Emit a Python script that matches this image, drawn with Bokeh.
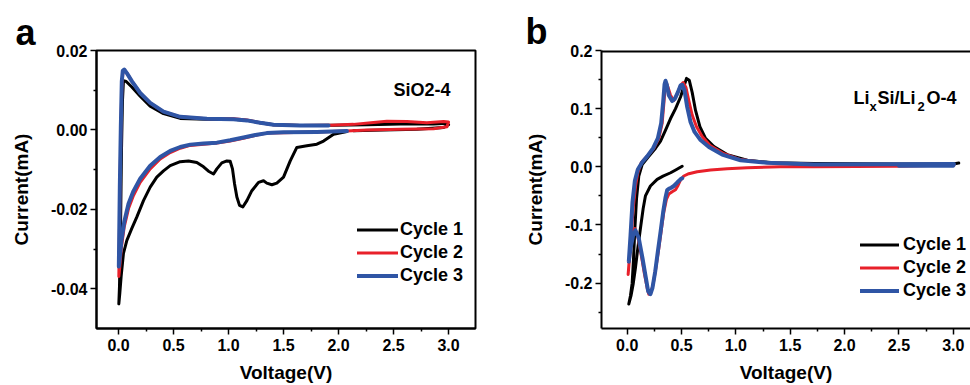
from bokeh.plotting import figure
from bokeh.layouts import row
from bokeh.models import (Range1d, FixedTicker, NumeralTickFormatter, Legend,
                          LegendItem, Label, Span, Title)
from bokeh.embed import file_html
from bokeh.resources import INLINE

# ---------------- data: panel a (SiO2-4) ----------------
a_c1_v = [2.076, 1.955, 1.864, 1.803, 1.712, 1.621, 1.561, 1.5, 1.439, 1.394, 1.348, 1.318,
          1.273, 1.212, 1.167, 1.13, 1.1, 1.076, 1.055, 1.036, 1.015, 0.985, 0.939, 0.894,
          0.864, 0.818, 0.773, 0.712, 0.636, 0.561, 0.47, 0.409, 0.348, 0.288, 0.227, 0.167,
          0.121, 0.076, 0.045, 0.024, 0.012, 0.003,
          0.009, 0.018, 0.027, 0.036, 0.045, 0.07, 0.121, 0.197, 0.288, 0.409, 0.561, 0.803,
          1.045, 1.167, 1.288, 1.409, 1.652, 1.955, 2.258, 2.561, 2.864, 2.985, 3.0, 2.955,
          2.712, 2.409, 2.136]
a_c1_i = [-0.0004, -0.0011, -0.0028, -0.0036, -0.0040, -0.0044, -0.0078, -0.0119, -0.0134,
          -0.0138, -0.0134, -0.0128, -0.0132, -0.0153, -0.0178, -0.0194, -0.0190, -0.0169,
          -0.0136, -0.0098, -0.0079, -0.0078, -0.0083, -0.0098, -0.0111, -0.0104, -0.0093,
          -0.0082, -0.0078, -0.0080, -0.0090, -0.0103, -0.0119, -0.0144, -0.0178, -0.0219,
          -0.0248, -0.0278, -0.0311, -0.0369, -0.0411, -0.0438,
          -0.0394, -0.0260, -0.0053, 0.0073, 0.0124, 0.0122, 0.0108, 0.0085, 0.0060, 0.0041,
          0.0029, 0.0027, 0.0027, 0.0024, 0.0018, 0.0013, 0.0011, 0.0012, 0.0013, 0.0015,
          0.0015, 0.0017, 0.0013, 0.0006, 0.0002, 0.0, -0.0002]

a_c2_v = [2.985, 2.864, 2.561, 2.258, 2.076, 1.803, 1.5, 1.348, 1.258, 1.136, 1.015, 0.894,
          0.773, 0.652, 0.561, 0.47, 0.379, 0.288, 0.197, 0.136, 0.091, 0.052, 0.027, 0.012,
          0.003,
          0.006, 0.012, 0.021, 0.03, 0.039, 0.052, 0.076, 0.121, 0.197, 0.288, 0.409, 0.561,
          0.803, 1.045, 1.167, 1.288, 1.409, 1.652, 1.924, 2.136, 2.318, 2.439, 2.621, 2.803,
          2.955, 3.0, 2.985]
a_c2_i = [0.0008, 0.0003, 0.0002, 0.0, -0.0003, -0.0005, -0.0007, -0.0008, -0.0013, -0.0021,
          -0.0028, -0.0033, -0.0036, -0.0039, -0.0046, -0.0057, -0.0073, -0.0098, -0.0132,
          -0.0165, -0.0198, -0.0244, -0.0294, -0.0344, -0.0369,
          -0.0311, -0.0178, -0.0011, 0.0106, 0.0143, 0.0152, 0.0143, 0.0123, 0.0093, 0.0068,
          0.0046, 0.0033, 0.0028, 0.0028, 0.0025, 0.0018, 0.0013, 0.0011, 0.0012, 0.0014,
          0.0019, 0.0022, 0.0021, 0.0018, 0.0021, 0.0020, 0.0008]

a_c3_v = [2.076, 1.803, 1.5, 1.348, 1.258, 1.136, 1.015, 0.894, 0.773, 0.652, 0.561, 0.47,
          0.379, 0.288, 0.197, 0.136, 0.091, 0.052, 0.027, 0.009, 0.003,
          0.006, 0.012, 0.021, 0.03, 0.039, 0.052, 0.076, 0.121, 0.197, 0.288, 0.409, 0.561,
          0.803, 1.045, 1.167, 1.288, 1.409, 1.652, 1.909]
a_c3_i = [-0.0003, -0.0005, -0.0006, -0.0008, -0.0012, -0.0019, -0.0026, -0.0032, -0.0034,
          -0.0037, -0.0043, -0.0053, -0.0068, -0.0090, -0.0123, -0.0154, -0.0186, -0.0232,
          -0.0278, -0.0328, -0.0344,
          -0.0278, -0.0144, 0.0006, 0.0123, 0.0149, 0.0152, 0.0143, 0.0123, 0.0093, 0.0068,
          0.0046, 0.0033, 0.0028, 0.0027, 0.0024, 0.0018, 0.0013, 0.0011, 0.0011]

# ---------------- data: panel b (LixSi/Li2O-4) ----------------
b_c1_v = [0.506, 0.45, 0.4, 0.33, 0.276, 0.214, 0.168, 0.147, 0.122, 0.098, 0.076, 0.055,
          0.035, 0.015,
          0.03, 0.046, 0.058, 0.07, 0.086, 0.107, 0.138, 0.199, 0.261, 0.307, 0.353, 0.399,
          0.445, 0.491, 0.528, 0.546, 0.571, 0.598, 0.629, 0.669, 0.721, 0.798, 0.92, 1.104,
          1.35, 1.72, 2.5, 3.0, 3.05]
b_c1_i = [0.001, -0.005, -0.0102, -0.016, -0.0215, -0.033, -0.050, -0.072, -0.106, -0.140,
          -0.174, -0.202, -0.222, -0.236,
          -0.222, -0.200, -0.160, -0.110, -0.055, -0.016, 0.004, 0.018, 0.032, 0.044, 0.063,
          0.083, 0.100, 0.120, 0.142, 0.152, 0.149, 0.128, 0.097, 0.069, 0.049, 0.035, 0.021,
          0.0113, 0.0068, 0.0055, 0.005, 0.005, 0.0065]

b_c2_v = [3.006, 2.48, 1.72, 1.41, 1.104, 0.92, 0.767, 0.644, 0.567, 0.521, 0.491, 0.469,
          0.445, 0.414, 0.383, 0.362, 0.337, 0.316, 0.291, 0.264, 0.239, 0.215, 0.199, 0.184,
          0.16, 0.129, 0.098, 0.071, 0.046, 0.025, 0.009,
          0.018, 0.037, 0.055, 0.077, 0.098, 0.129, 0.184, 0.245, 0.291, 0.322, 0.337, 0.35,
          0.362, 0.377, 0.399, 0.429, 0.46, 0.491, 0.515, 0.54, 0.567, 0.598, 0.638, 0.69,
          0.767, 0.89, 1.043, 1.288, 1.72, 3.006]
b_c2_i = [0.003, 0.001, 0.0, 0.0, -0.0017, -0.0034, -0.0056, -0.0085, -0.0119, -0.0158,
          -0.0226, -0.0316, -0.0395, -0.043, -0.0469, -0.0554, -0.078, -0.106, -0.140, -0.174,
          -0.202, -0.218, -0.219, -0.208, -0.185, -0.151, -0.120, -0.106, -0.123, -0.151,
          -0.185,
          -0.163, -0.118, -0.072, -0.033, -0.0102, 0.0068, 0.018, 0.032, 0.049, 0.075, 0.108,
          0.137, 0.1435, 0.136, 0.123, 0.114, 0.125, 0.140, 0.145, 0.137, 0.114, 0.089, 0.069,
          0.052, 0.036, 0.0226, 0.0124, 0.0068, 0.004, 0.003]

b_c3_v = [0.506, 0.49, 0.46, 0.429, 0.405, 0.383, 0.368, 0.353, 0.331, 0.307, 0.282, 0.258,
          0.233, 0.214, 0.193, 0.172, 0.141, 0.107, 0.076, 0.055, 0.031, 0.015,
          0.031, 0.049, 0.071, 0.098, 0.138, 0.184, 0.239, 0.282, 0.313, 0.331, 0.344,
          0.353, 0.365, 0.383, 0.414, 0.439, 0.466, 0.491, 0.506, 0.528, 0.552, 0.583, 0.62,
          0.675, 0.752, 0.874, 1.043, 1.288, 1.72, 3.006, 3.0, 2.5]
b_c3_i = [-0.0198, -0.0215, -0.027, -0.033, -0.036, -0.038, -0.040, -0.0525, -0.078, -0.112,
          -0.146, -0.180, -0.208, -0.219, -0.214, -0.191, -0.157, -0.123, -0.109, -0.118,
          -0.140, -0.163,
          -0.118, -0.061, -0.024, -0.0045, 0.0079, 0.018, 0.032, 0.049, 0.075, 0.111,
          0.142, 0.148, 0.141, 0.123, 0.113, 0.117, 0.128, 0.140, 0.141, 0.131, 0.103, 0.077,
          0.060, 0.046, 0.034, 0.021, 0.0113, 0.0068, 0.004, 0.005, 0.002, 0.0017]

cycle_labels = ["Cycle 1", "Cycle 2", "Cycle 3"]
x_ticks = [0.0, 0.5, 1.0, 1.5, 2.0, 2.5, 3.0]
x_minor = [-0.25, 0.25, 0.75, 1.25, 1.75, 2.25, 2.75]
a_y_ticks = [0.02, 0.0, -0.02, -0.04]
a_y_minor = [0.01, -0.01, -0.03]
b_y_ticks = [0.2, 0.1, 0.0, -0.1, -0.2]
b_y_minor = [0.15, 0.05, -0.05, -0.15, -0.25]

FONT = "Liberation Sans"
COLORS = ["#000000", "#e8202a", "#2f55a5"]
WIDTHS = [3, 3, 4]


def style_axes(p, yfmt, yticks, yminor):
    p.xaxis.ticker = FixedTicker(ticks=x_ticks, minor_ticks=x_minor)
    p.yaxis.ticker = FixedTicker(ticks=yticks, minor_ticks=yminor)
    p.xaxis.formatter = NumeralTickFormatter(format="0.0")
    p.yaxis.formatter = NumeralTickFormatter(format=yfmt)
    for ax in (p.xaxis, p.yaxis):
        ax.axis_line_width = 2
        ax.axis_line_color = "black"
        ax.major_tick_line_width = 1.5
        ax.minor_tick_line_width = 1.5
        ax.major_tick_out = 6
        ax.major_tick_in = 0
        ax.minor_tick_out = 3
        ax.minor_tick_in = 0
        ax.major_label_text_font = FONT
        ax.major_label_text_font_style = "bold"
        ax.major_label_text_font_size = "16px"
        ax.major_label_text_color = "black"
        ax.axis_label_text_font = FONT
        ax.axis_label_text_font_style = "bold"
        ax.axis_label_text_font_size = "19px"
        ax.axis_label_text_color = "black"
    p.xaxis.major_label_standoff = 4
    p.yaxis.major_label_standoff = 3
    p.xaxis.axis_label = "Voltage(V)"
    p.yaxis.axis_label = "Current(mA)"
    p.xaxis.axis_label_standoff = 8
    p.yaxis.axis_label_standoff = 16
    p.grid.visible = False


def add_curves(p, data, loc, glyph_w, standoff):
    rs = []
    for (xs, ys), c, w in zip(data, COLORS, WIDTHS):
        rs.append(p.line(xs, ys, line_color=c, line_width=w, line_join="round",
                         line_cap="round"))
    leg = Legend(items=[LegendItem(label=l, renderers=[r]) for l, r in zip(cycle_labels, rs)],
                 location=loc, padding=0, margin=0, spacing=2, glyph_width=glyph_w,
                 glyph_height=21, label_height=21, label_standoff=standoff,
                 label_text_font=FONT, label_text_font_style="bold",
                 label_text_font_size="18px", label_text_color="black",
                 border_line_color=None, background_fill_alpha=0)
    p.add_layout(leg)


def panel_letter(p, letter, offset, standoff):
    p.add_layout(Title(text=letter, align="left", offset=offset, standoff=standoff,
                       text_font=FONT, text_font_style="bold", text_font_size="36px",
                       text_color="black"), "above")


def note(p, txt, xx, yy, fs):
    p.add_layout(Label(x=xx, y=yy, x_units="screen", y_units="screen", text=txt,
                       text_font=FONT, text_font_style="bold", text_font_size=fs,
                       text_color="black", text_baseline="alphabetic"))


# ---------------- panel a ----------------
pa = figure(width=480, height=385, x_range=Range1d(-0.2, 3.245), y_range=Range1d(-0.05, 0.02),
            output_backend="svg", toolbar_location=None,
            min_border_left=96, min_border_right=5, min_border_top=49, min_border_bottom=56)
pa.outline_line_color = "black"
pa.outline_line_width = 2
style_axes(pa, "0.00", a_y_ticks, a_y_minor)
add_curves(pa, [(a_c1_v, a_c1_i), (a_c2_v, a_c2_i), (a_c3_v, a_c3_i)], (261, 42), 41, 2)
panel_letter(pa, "a", -81, -5)
note(pa, "SiO2-4", 297, 239, "18px")

# ---------------- panel b ----------------
pb = figure(width=490, height=385, x_range=Range1d(-0.236, 3.158), y_range=Range1d(-0.278, 0.2),
            output_backend="svg", toolbar_location=None,
            min_border_left=121, min_border_right=0, min_border_top=50, min_border_bottom=54)
pb.outline_line_color = None
style_axes(pb, "0.0", b_y_ticks, b_y_minor)
pb.add_layout(Span(location=0.2, dimension="width", line_color="black", line_width=4))
add_curves(pb, [(b_c1_v, b_c1_i), (b_c2_v, b_c2_i), (b_c3_v, b_c3_i)], (259, 27), 39, 4)
panel_letter(pb, "b", -76, -3)
for txt, xx, yy, fs in [("Li", 252, 231, "18px"), ("x", 268, 222, "13px"),
                        ("Si/Li", 276, 231, "18px"), ("2", 316, 222, "13px"),
                        ("O-4", 325, 231, "18px")]:
    note(pb, txt, xx, yy, fs)

layout = row(pa, pb)
open("out.html", "w").write(file_html(layout, INLINE))
